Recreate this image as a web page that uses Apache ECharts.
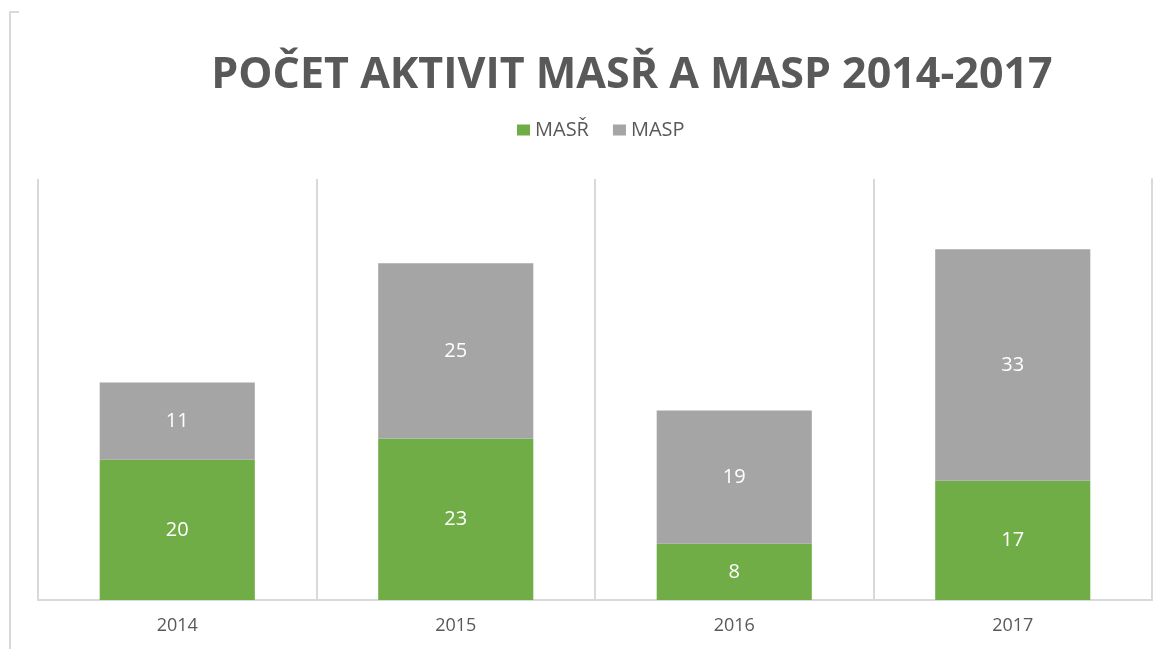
<!DOCTYPE html>
<html>
<head>
<meta charset="utf-8">
<style>
  html, body { margin: 0; padding: 0; background: #fff; }
  #chart { width: 1170px; height: 649px; }
</style>
<script src="https://cdn.jsdelivr.net/npm/echarts@6/dist/echarts.min.js"></script>
</head>
<body>
<div id="chart"></div>
<script>
var years = ['2014', '2015', '2016', '2017'];
var masr = [20, 23, 8, 17];
var masp = [11, 25, 19, 33];

var chart = echarts.init(document.getElementById('chart'));

function barLabel() {
	return {
		show: true,
		position: 'inside',
		color: '#ffffff',
		fontFamily: 'Open Sans',
		fontSize: 20
	};
}

function getOption() {
	return {
		animation: false,
		title: {
			text: 'POČET AKTIVIT MASŘ A MASP 2014-2017',
			left: 627,
			textAlign: 'center',
			top: 49,
			textStyle: {
				fontFamily: 'Open Sans',
				fontWeight: 'bold',
				fontSize: 43,
				color: '#595959'
			}
		},
		legend: {
			data: ['MASŘ', 'MASP'],
			left: 512,
			top: 115,
			itemWidth: 13,
			itemHeight: 11,
			itemGap: 24,
			icon: 'rect',
			textStyle: {
				fontFamily: 'Open Sans',
				fontSize: 20,
				color: '#595959'
			}
		},
		grid: {
			left: 38,
			right: 18,
			top: 179,
			bottom: 49
		},
		xAxis: {
			type: 'category',
			data: years,
			axisLine: { lineStyle: { color: '#d9d9d9', width: 2 } },
			axisTick: { show: false },
			splitLine: { show: true, lineStyle: { color: '#d9d9d9', width: 2 } },
			axisLabel: {
				fontFamily: 'Open Sans',
				fontSize: 18,
				color: '#595959',
				margin: 17
			}
		},
		yAxis: {
			type: 'value',
			min: 0,
			max: 60,
			position: 'right',
			axisLine: { show: true, lineStyle: { color: '#d9d9d9', width: 2 } },
			axisTick: { show: false },
			axisLabel: { show: false },
			splitLine: { show: false }
		},
		series: [
			{
				name: 'MASŘ',
				type: 'bar',
				stack: 'total',
				data: masr,
				barWidth: '55.7%',
				itemStyle: { color: '#70ad47' },
				label: barLabel()
			},
			{
				name: 'MASP',
				type: 'bar',
				stack: 'total',
				data: masp,
				itemStyle: { color: '#a5a5a5' },
				label: barLabel()
			}
		],
		graphic: [
			{
				type: 'polyline',
				silent: true,
				shape: { points: [[19, 12], [10, 12], [10, 649]] },
				style: { stroke: '#d9d9d9', lineWidth: 2, fill: null }
			}
		]
	};
}

chart.setOption(getOption());
</script>
</body>
</html>
